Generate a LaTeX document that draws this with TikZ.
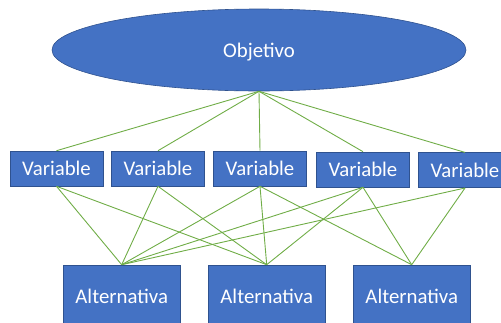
\documentclass[tikz,border=0pt]{standalone}
\usepackage{fontspec}
\setmainfont{Carlito}
\usetikzlibrary{shapes.geometric}
\definecolor{boxblue}{HTML}{4472C4}
\definecolor{edgeblue}{HTML}{2F528F}
\definecolor{linkgreen}{HTML}{70AD47}
\tikzset{
  x=1pt, y=-1pt,
  blueshape/.style={fill=boxblue, draw=edgeblue, line width=0.6pt, text=white,
    font=\fontsize{20.8}{24}\selectfont, inner sep=0pt},
  varbox/.style={blueshape, rectangle, minimum width=93pt, minimum height=35pt, text depth=0pt},
  altbox/.style={blueshape, rectangle, minimum width=116.5pt, minimum height=62pt},
  link/.style={draw=linkgreen, line width=0.9pt}
}
\begin{document}
\begin{tikzpicture}
\useasboundingbox (0,0) rectangle (501,322);
\clip (0,0) rectangle (501,322);
\node[blueshape, ellipse, minimum width=414pt, minimum height=82pt, text depth=0pt] (obj) at (259,50) {Objetivo};
\node[varbox] (v1) at (56.5,168.5) {Variable};
\node[varbox] (v2) at (158,168.5) {Variable};
\node[varbox] (v3) at (260,168.5) {Variable};
\node[varbox] (v4) at (363,169.5) {Variable};
\node[varbox] (v5) at (465,170.2) {Variable};
\node[altbox] (a1) at (121.7,296) {Alternativa};
\node[altbox] (a2) at (266.7,296) {Alternativa};
\node[altbox] (a3) at (411.7,296) {Alternativa};
\foreach \v in {v1,v2,v3,v4,v5} \draw[link] (obj.south) -- (\v.north);
\foreach \v/\a in {v1/a1,v1/a2,v2/a1,v2/a2,v3/a1,v3/a2,v3/a3,v4/a1,v4/a2,v4/a3,v5/a1,v5/a3}
  \draw[link] (\v.south) -- (\a.north);
\end{tikzpicture}
\end{document}
